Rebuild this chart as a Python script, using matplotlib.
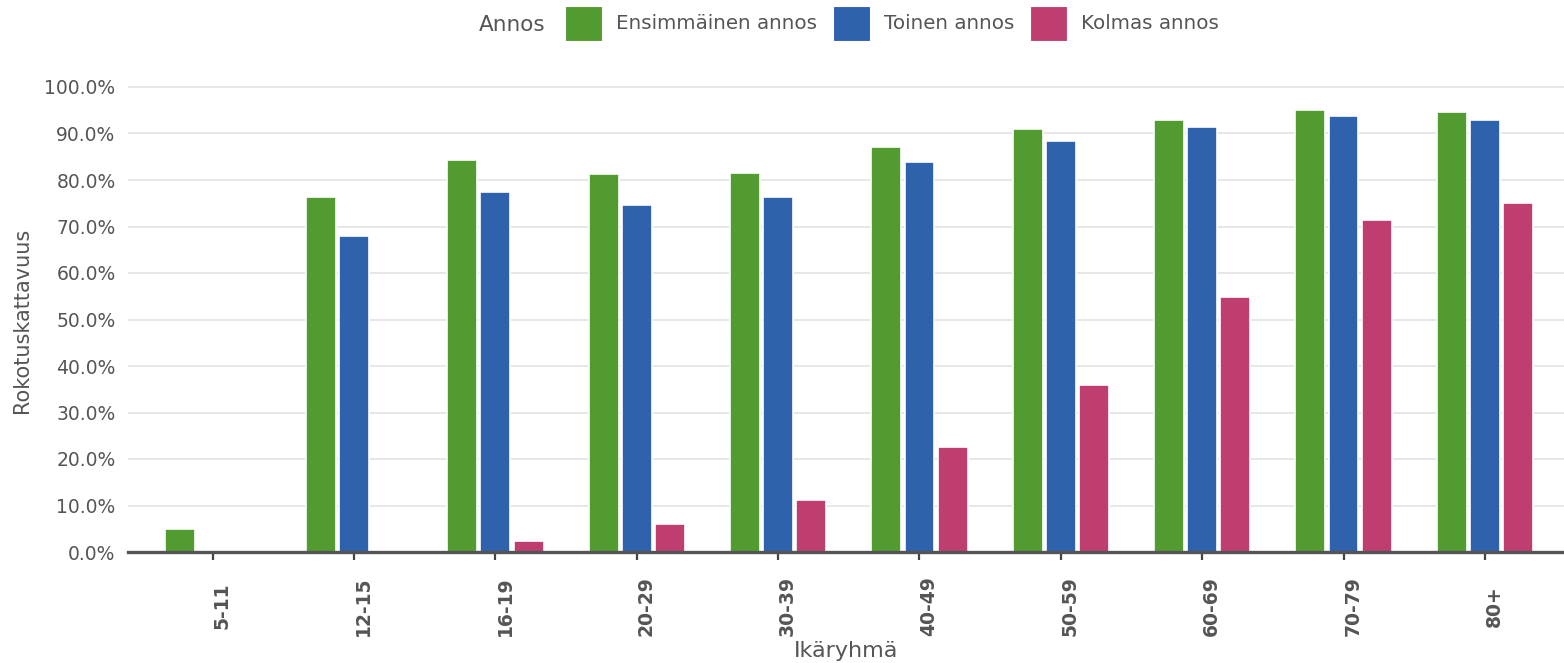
import numpy as np
import matplotlib
matplotlib.use("Agg")
import matplotlib.pyplot as plt
from matplotlib.patches import Patch
from matplotlib.ticker import FuncFormatter, MultipleLocator

# data (percent)
age_groups = ['5-11', '12-15', '16-19', '20-29', '30-39',
              '40-49', '50-59', '60-69', '70-79', '80+']
dose1 = [4.9, 76.3, 84.3, 81.3, 81.6, 87.1, 90.9, 93.0, 95.0, 94.7]
dose2 = [0.0, 68.0, 77.4, 74.6, 76.4, 83.9, 88.4, 91.3, 93.8, 92.9]
dose3 = [0.0, 0.0, 2.3, 6.0, 11.2, 22.6, 35.9, 54.8, 71.3, 75.0]
series_names = ['Ensimmäinen annos', 'Toinen annos', 'Kolmas annos']
colors = ['#529b30', '#2f62ad', '#be3e70']

plt.rcParams['font.family'] = ['DejaVu Sans']
txt_color = '#555555'

fig = plt.figure(figsize=(15.64, 6.63), dpi=100)
ax = fig.add_axes([128 / 1564, (663 - 552) / 663, 1 - 128 / 1564, (552 - 80) / 663])

x = np.arange(len(age_groups))
width = 0.212
step = 0.234
for i, (vals, col) in enumerate(zip([dose1, dose2, dose3], colors)):
    ax.bar(x + (i - 1) * step, vals, width, color=col,
           edgecolor='white', linewidth=1.2, zorder=3)

ax.set_xlim(-0.6, 9.56)
ax.set_ylim(0, 100 * (552 - 80) / (552 - 87))
ax.yaxis.set_major_locator(MultipleLocator(10))
ax.yaxis.set_major_formatter(FuncFormatter(lambda v, p: f"{v:.1f}%" if v <= 100 else ""))
ax.grid(axis='y', color='#e3e3e3', linewidth=1.2, zorder=0)
ax.set_axisbelow(True)

for s in ['top', 'right', 'left']:
    ax.spines[s].set_visible(False)
ax.spines['bottom'].set_color('#555555')
ax.spines['bottom'].set_linewidth(2.4)
ax.spines['bottom'].set_zorder(4)

ax.tick_params(axis='y', length=0, pad=9, labelsize=13.5, labelcolor=txt_color)
ax.tick_params(axis='x', length=6, width=1.6, color='#444444', pad=4)
ax.set_xticks(x)
ax.set_xticklabels(age_groups, rotation=90, fontsize=13.5, fontweight='bold',
                   color=txt_color, ha='left', va='center')
# move tick labels so their centres sit ~49 px below the axis
offset = matplotlib.transforms.ScaledTranslation(0, -40 / 100, fig.dpi_scale_trans)
for lbl in ax.get_xticklabels():
    lbl.set_transform(lbl.get_transform() + offset)

ax.set_ylabel('Rokotuskattavuus', fontsize=15, color=txt_color)
ax.yaxis.set_label_coords(-0.067, 0.49)
ax.set_xlabel('Ikäryhmä', fontsize=16, color=txt_color)
ax.xaxis.set_label_coords(0.5, -0.188)

handles = [Patch(facecolor=c, edgecolor='white', linewidth=0.8) for c in colors]
fig.legend(handles, series_names, loc='center', bbox_to_anchor=(0.5705, 0.965),
           ncol=3, frameon=False, fontsize=14.3, handlelength=1.86, handleheight=2.33,
           handletextpad=0.7, columnspacing=0.8, labelcolor=txt_color)
fig.text(545 / 1564, 0.963, 'Annos', ha='right', va='center', fontsize=15.5,
         color=txt_color)

plt.savefig('out.png', dpi=100)
